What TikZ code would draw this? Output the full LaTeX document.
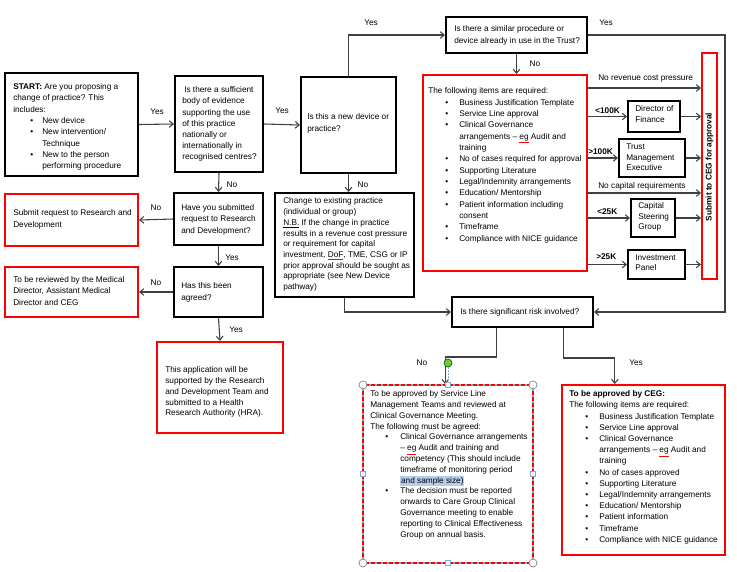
\documentclass[tikz,border=0pt]{standalone}
\usepackage{fontspec}
\setmainfont{Liberation Sans}
\usetikzlibrary{arrows.meta,fit,calc}
\newlength{\pxu}\setlength{\pxu}{0.75pt}
\setlength{\fboxsep}{0.6pt}
\definecolor{boxred}{RGB}{255,0,0}
\definecolor{conn}{RGB}{64,64,64}
\definecolor{hl}{RGB}{182,206,235}
\definecolor{hdl}{RGB}{140,165,200}
\definecolor{gdot}{RGB}{120,200,60}
\newcommand{\bitem}[3]{\hspace*{#1\pxu}\makebox[#2\pxu][l]{\textbullet}#3}
\newcommand{\bcont}[2]{\hspace*{#1\pxu}#2}
\newcommand{\sperr}[1]{{\color{red}\underline{\textcolor{black}{#1}}}}
\begin{document}
\begin{tikzpicture}[x=0.75pt,y=-0.75pt,
  bbox/.style={draw=black, line width=1.5pt, inner sep=0},
  rbox/.style={draw=boxred, line width=1.5pt, inner sep=0},
  arr/.style={draw=conn, line width=0.8pt, -{Straight Barb[length=3pt,width=5pt]}},
  ln/.style={draw=conn, line width=0.8pt},
  txt/.style={inner sep=0, anchor=north west, align=left},
  lbl/.style={inner sep=0, font=\fontsize{6.2}{7}\selectfont},
  hsq/.style={draw=hdl, fill=white, line width=0.5pt, minimum size=3.6pt, inner sep=0},
  hci/.style={draw=gray, fill=white, line width=0.5pt, circle, minimum size=6pt, inner sep=0},
]
\useasboundingbox (0,0) rectangle (737,571);
\fill[white] (0,0) rectangle (737,571);

% ---------- boxes ----------
\node[bbox, fit={(5,73) (138,176)}] (start) {};
\node[bbox, fit={(175,76) (263,172)}] (ev) {};
\node[bbox, fit={(301,77) (396,173)}] (newdev) {};
\node[bbox, fit={(446,17) (587,53)}] (similar) {};
\node[rbox, fit={(423,75) (587,271)}] (items) {};
\node[bbox, fit={(628,101) (680,132)}] (dof) {};
\node[bbox, fit={(619,139) (685,177)}] (tme) {};
\node[bbox, fit={(631,199) (675,237)}] (csg) {};
\node[bbox, fit={(628,250) (685,279)}] (ip) {};
\node[rbox, fit={(702,53) (717,279)}] (ceg) {};
\node[bbox, fit={(275,193) (414,297)}] (change) {};
\node[bbox, fit={(452,297) (593,327)}] (risk) {};
\node[bbox, fit={(174,193) (263,245)}] (sub) {};
\node[rbox, fit={(5,194) (138,246)}] (rd) {};
\node[bbox, fit={(174,267) (263,317)}] (agreed) {};
\node[rbox, fit={(5,267) (138,317)}] (rev) {};
\node[rbox, fit={(157,342) (283,433)}] (hra) {};
\node[draw=hdl, line width=1.2pt, inner sep=0, fit={(363,385) (533,563)}] (slm) {};
\draw[boxred, line width=1.2pt, dash pattern=on 3pt off 1.5pt] (363,385) rectangle (533,563);
\node[rbox, fit={(562,385) (725,555)}] (ceg2) {};

% ---------- texts ----------
\node[txt, font=\fontsize{6.2}{8.5}\selectfont] (starttxt) at (13,83.2) {\textbf{START:} Are you proposing  a\\ change of practice? This\\ includes:\\ \bitem{17}{12}{New device}\\ \bitem{17}{12}{New intervention/}\\ \bcont{29}{Technique}\\ \bitem{17}{12}{New to the person}\\ \bcont{29}{performing procedure}};
\node[txt, font=\fontsize{6.2}{8.4}\selectfont] (evtxt) at (182,86.5) {\hspace*{2\pxu}Is there a sufficient\\ body of evidence\\ supporting the use\\ of this practice\\ nationally or\\ internationally in\\ recognised centres?};
\node[txt, font=\fontsize{6.2}{9}\selectfont] (newdevtxt) at (307,113.5) {Is this a new device or\\ practice?};
\node[txt, font=\fontsize{6.2}{9.5}\selectfont] (similartxt) at (454,24.8) {Is there a similar procedure or\\ device already in use in the Trust?};
\node[txt, font=\fontsize{6.2}{8.5}\selectfont] (itemstxt) at (428,87.5) {The  following items are required:\\ \bitem{17}{14}{Business Justification Template}\\ \bitem{17}{14}{Service Line approval}\\ \bitem{17}{14}{Clinical Governance}\\ \bcont{31}{arrangements – \sperr{eg} Audit and}\\ \bcont{31}{training}\\ \bitem{17}{14}{No of cases required for approval}\\ \bitem{17}{14}{Supporting  Literature}\\ \bitem{17}{14}{Legal/Indemnity arrangements}\\ \bitem{17}{14}{Education/ Mentorship}\\ \bitem{17}{14}{Patient information including}\\ \bcont{31}{consent}\\ \bitem{17}{14}{Timeframe}\\ \bitem{17}{14}{Compliance with NICE guidance}};
\node[txt, font=\fontsize{6.2}{8.3}\selectfont] (doftxt) at (635,105.5) {Director of\\ Finance};
\node[txt, font=\fontsize{6.2}{7.9}\selectfont] (tmetxt) at (626,143.8) {Trust\\ Management\\ Executive};
\node[txt, font=\fontsize{6.2}{7.9}\selectfont] (csgtxt) at (638,202.5) {Capital\\ Steering\\ Group};
\node[txt, font=\fontsize{6.2}{7.6}\selectfont] (iptxt) at (635,254.5) {Investment\\ Panel};
\node[lbl, rotate=90, font=\fontsize{6.2}{7}\selectfont\bfseries] (cegtxt) at (709.5,167) {Submit to CEG for approval};
\node[txt, font=\fontsize{6.2}{8.06}\selectfont] (changetxt) at (283,197.5) {Change to existing practice\\ (individual or group)\\ \underline{N.B.} If the change in practice\\ results in a  revenue cost pressure\\ or requirement for capital\\ investment, \sperr{DoF}, TME, CSG or IP\\ prior approval should be sought as\\ appropriate  (see New Device\\ pathway)};
\node[txt, font=\fontsize{6.2}{8}\selectfont] (risktxt) at (460,308.5) {Is there significant risk involved?};
\node[txt, font=\fontsize{6.2}{8.6}\selectfont] (subtxt) at (181,204.2) {Have you submitted\\ request to Research\\ and Development?};
\node[txt, font=\fontsize{6.2}{8.6}\selectfont] (agreedtxt) at (181,282.5) {Has this been\\ agreed?};
\node[txt, font=\fontsize{6.2}{9.2}\selectfont] (rdtxt) at (13,209.2) {Submit request to Research and\\ Development};
\node[txt, font=\fontsize{6.2}{8.8}\selectfont] (revtxt) at (13,275.8) {To be reviewed by the Medical\\ Director, Assistant Medical\\ Director and CEG};
\node[txt, font=\fontsize{6.2}{8.1}\selectfont] (hratxt) at (165,366.5) {This application will be\\ supported by the Research\\ and Development Team  and\\ submitted to a Health\\ Research Authority (HRA).};
\node[txt, font=\fontsize{6.2}{8.1}\selectfont] (slmtxt) at (370,390.5) {To be approved  by Service Line\\ Management Teams and reviewed at\\ Clinical Governance Meeting.\\ The  following must be agreed:\\ \bitem{15}{15}{Clinical Governance arrangements}\\ \bcont{30}{– \sperr{eg} Audit and  training and}\\ \bcont{30}{competency (This should include}\\ \bcont{30}{timeframe of monitoring period}\\ \bcont{30}{\colorbox{hl}{and sample size)}}\\ \bitem{15}{15}{The  decision must be reported}\\ \bcont{30}{onwards to Care Group Clinical}\\ \bcont{30}{Governance meeting to enable}\\ \bcont{30}{reporting to Clinical Effectiveness}\\ \bcont{30}{Group on annual basis.}};
\node[txt, font=\fontsize{6.2}{8.4}\selectfont] (ceg2txt) at (569,390.5) {\textbf{To be approved by CEG:}\\ The  following items are required:\\ \bitem{16}{14}{Business Justification Template}\\ \bitem{16}{14}{Service Line approval}\\ \bitem{16}{14}{Clinical Governance}\\ \bcont{30}{arrangements – \sperr{eg} Audit and}\\ \bcont{30}{training}\\ \bitem{16}{14}{No of cases approved}\\ \bitem{16}{14}{Supporting  Literature}\\ \bitem{16}{14}{Legal/Indemnity arrangements}\\ \bitem{16}{14}{Education/ Mentorship}\\ \bitem{16}{14}{Patient information}\\ \bitem{16}{14}{Timeframe}\\ \bitem{16}{14}{Compliance with NICE guidance}};

% ---------- labels ----------
\node[lbl] (l1) at (157,112) {Yes};
\node[lbl] (l2) at (282,111) {Yes};
\node[lbl] (l3) at (371,23) {Yes};
\node[lbl] (l4) at (363,185) {No};
\node[lbl] (l5) at (535,64) {No};
\node[lbl] (l6) at (606,23) {Yes};
\node[lbl] (l7) at (232,185) {No};
\node[lbl] (l8) at (156,208) {No};
\node[lbl] (l9) at (232,258) {Yes};
\node[lbl] (l10) at (156,283) {No};
\node[lbl] (l11) at (236,330) {Yes};
\node[lbl] (l12) at (422,363) {No};
\node[lbl] (l13) at (636,363) {Yes};
\node[lbl, anchor=west] (r1) at (598,79) {No revenue  cost pressure};
\node[lbl, anchor=west, font=\fontsize{6.2}{7}\selectfont\bfseries] (r2) at (595,111) {<100K};
\node[lbl, anchor=west, font=\fontsize{6.2}{7}\selectfont\bfseries] (r3) at (588,152) {>100K};
\node[lbl, anchor=west] (r4) at (598,186) {No capital requirements};
\node[lbl, anchor=west, font=\fontsize{6.2}{7}\selectfont\bfseries] (r5) at (597,212) {<25K};
\node[lbl, anchor=west, font=\fontsize{6.2}{7}\selectfont\bfseries] (r6) at (596,257) {>25K};

% ---------- connectors ----------
\draw[arr] (start.east) -- (ev.west);
\draw[arr] (ev.east) -- (newdev.west);
\draw[arr] (newdev.north) |- (similar.west);
\draw[arr] (similar.south) -- (similar.south |- items.north);
\coordinate (yesR) at (725,35);
\draw[arr] (similar.east) -- (yesR) |- (risk.east);
\coordinate (norev) at (587,88);
\coordinate (nocap) at (587,193);
\draw[arr] (norev) -- (norev -| ceg.west);
\draw[arr] (nocap) -- (nocap -| ceg.west);
\draw[arr] (items.east |- dof.west) -- (dof.west);
\draw[arr] (items.east |- tme.west) -- (tme.west);
\draw[arr] (items.east |- csg.west) -- (csg.west);
\draw[arr] (items.east |- ip.west) -- (ip.west);
\draw[arr] (dof.east) -- (dof.east -| ceg.west);
\draw[arr] (tme.east) -- (tme.east -| ceg.west);
\draw[arr] (csg.east) -- (csg.east -| ceg.west);
\draw[arr] (ip.east) -- (ip.east -| ceg.west);
\draw[arr] (newdev.south) -- (newdev.south |- change.north);
\draw[arr] (change.south) |- (risk.west);
\coordinate (rn) at ($(risk.south west)!0.32!(risk.south east)$);
\coordinate (ry) at ($(risk.south west)!0.787!(risk.south east)$);
\coordinate (slmin) at ($(slm.north west)!0.484!(slm.north east)$);
\coordinate (cegin) at ($(ceg2.north west)!0.326!(ceg2.north east)$);
\draw[arr] (rn) -- ++(0,29) -| (slmin);
\draw[arr] (ry) -- ++(0,30) -| (cegin);
\draw[arr] (ev.south) -- (sub.north);
\draw[arr] (sub.west) -- (rd.east);
\draw[arr] (sub.south) -- (agreed.north);
\draw[arr] (agreed.west) -- (rev.east);
\draw[arr] (agreed.south) -- (hra.north);

% ---------- selection handles ----------
\node[circle, draw=black!60!green, fill=gdot, line width=0.5pt, minimum size=6pt, inner sep=0] (rot) at (448,363) {};
\draw[hdl, line width=0.6pt, dash pattern=on 1.2pt off 1pt] (rot.south) -- (slm.north);
\node[hci] (h1) at (363,385) {};
\node[hci] (h2) at (533,385) {};
\node[hci] (h3) at (363,563) {};
\node[hci] (h4) at (533,563) {};
\node[hsq] (s1) at (448,385) {};
\node[hsq] (s2) at (363,474) {};
\node[hsq] (s3) at (533,474) {};
\node[hsq] (s4) at (448,563) {};
\end{tikzpicture}
\end{document}
